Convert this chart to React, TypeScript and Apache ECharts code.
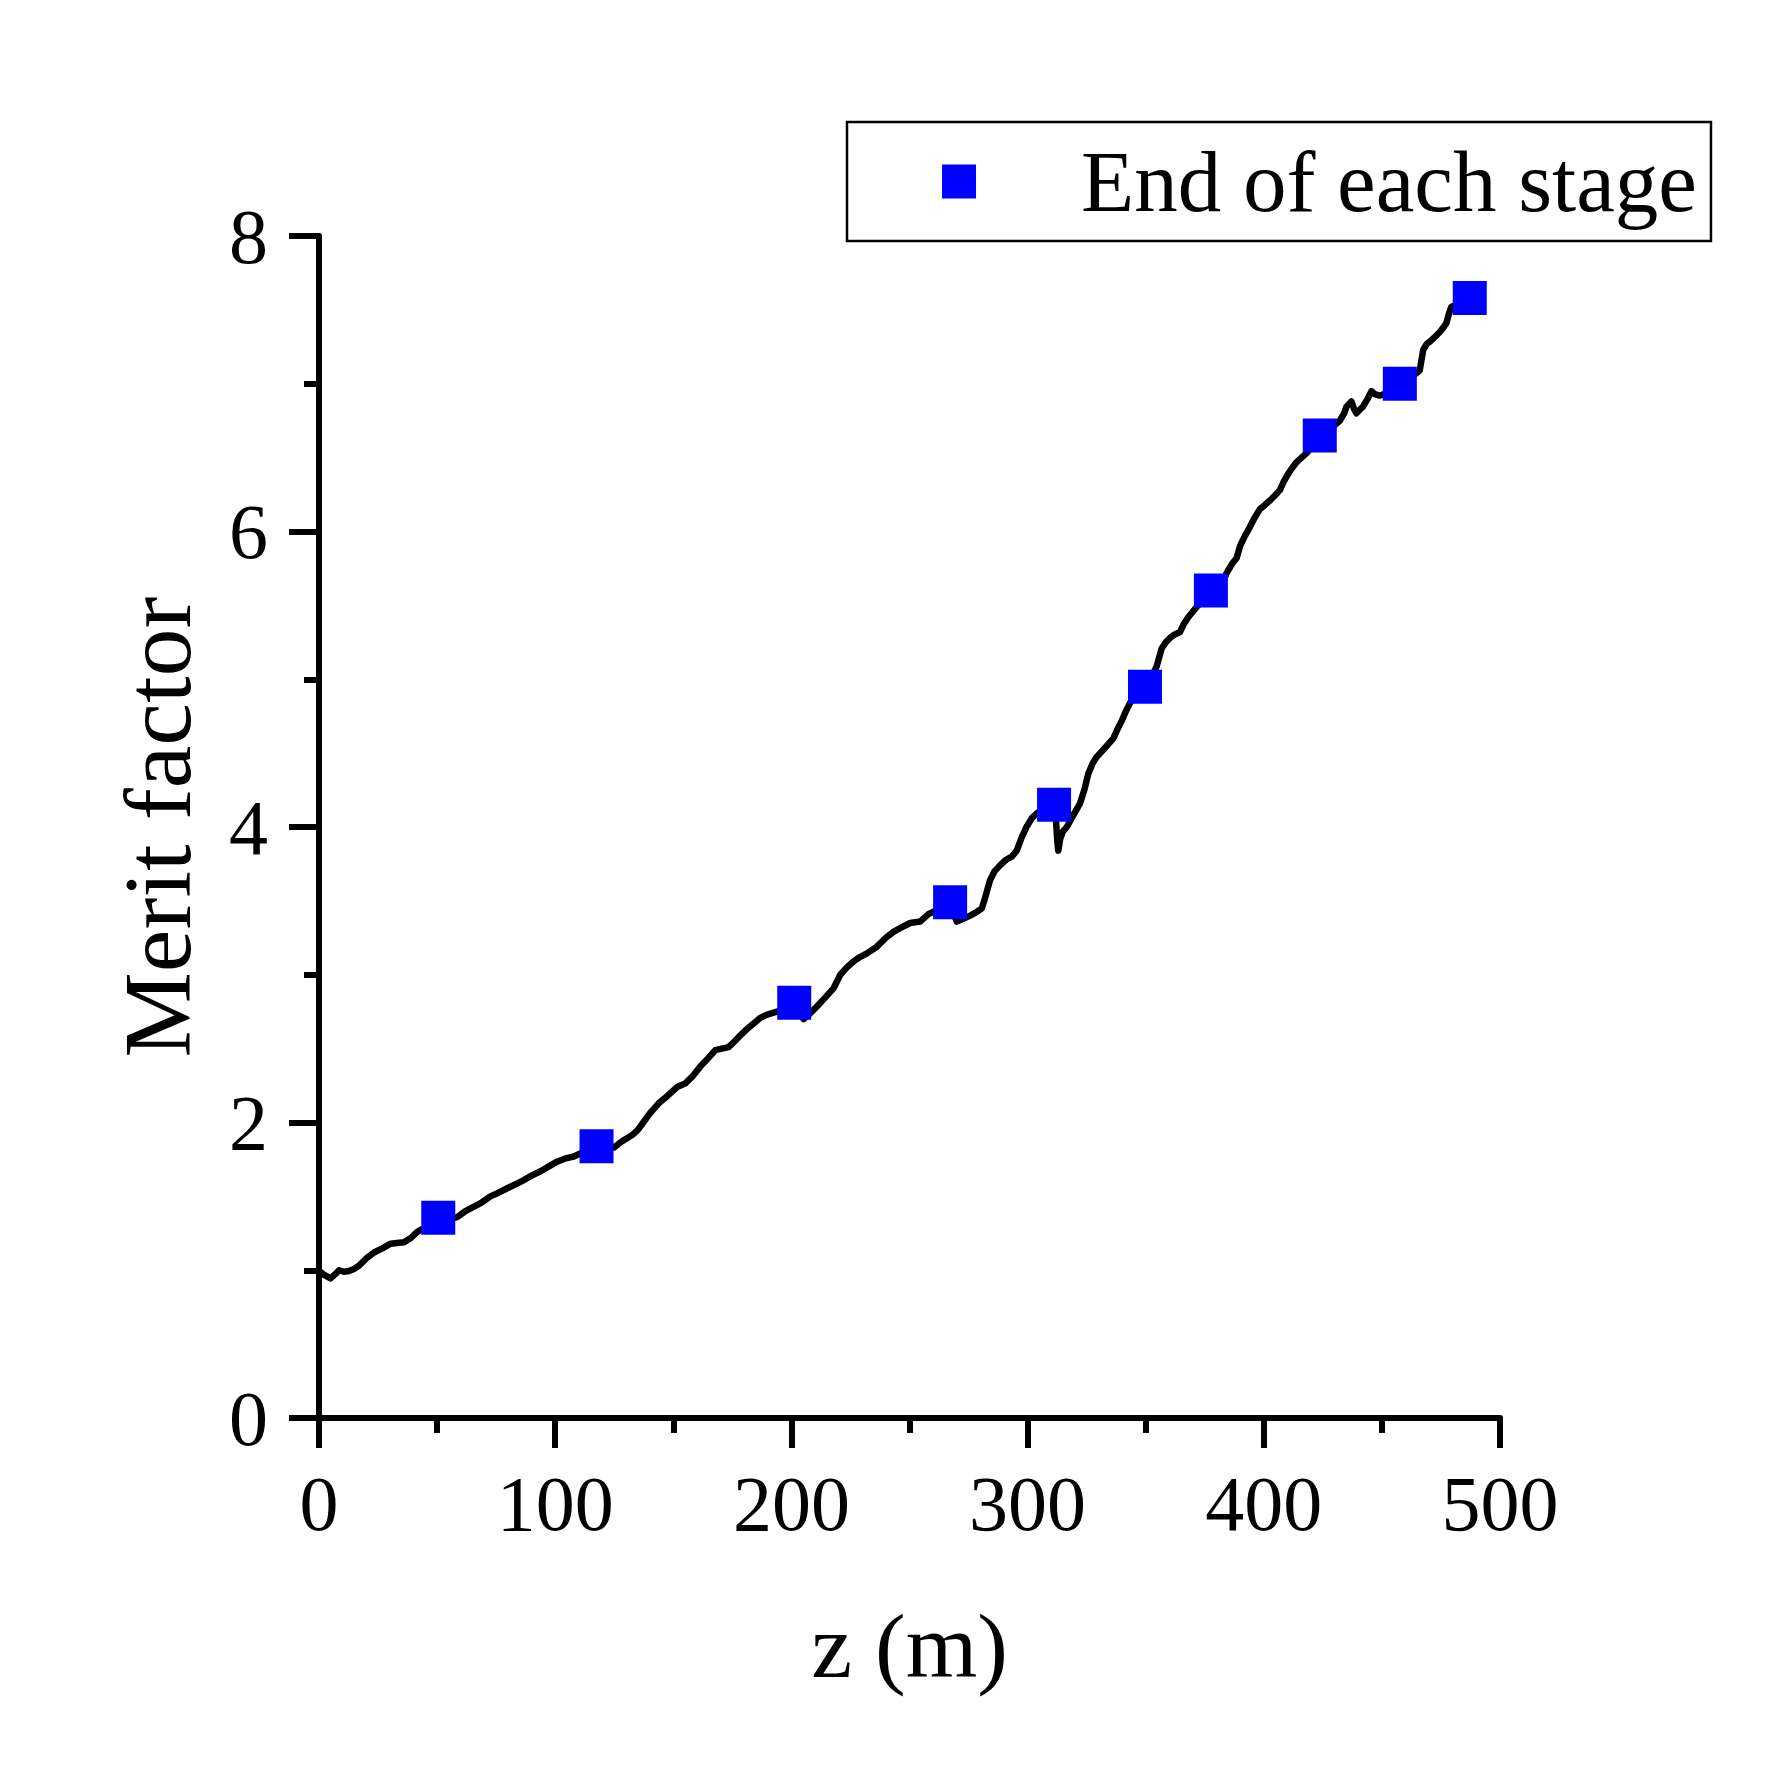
import React, { useEffect, useRef } from "react";
import * as echarts from "echarts";

const FONT = "'Times New Roman', 'Liberation Serif', serif";

const xTicks = [0, 100, 200, 300, 400, 500];
const yTicks = [0, 2, 4, 6, 8];

const lineZ = [
  0.5, 2, 4.9, 7, 8.5, 10.5, 12.7, 15, 16.9, 20, 23.3, 27, 30.3, 33, 36, 39, 41.6, 45, 48, 50.5,
  54, 58.5, 62, 65.6, 69, 72.6, 76, 79.7, 83, 86.7, 90, 93.8, 97, 100.8, 104, 107.9, 112, 115, 117.5,
  121, 124.8, 128, 132.6, 135, 137.5, 140, 143.8, 147.5, 151.6, 155.1, 158, 161.5, 164.5, 167.8,
  170.5, 173.4, 176, 178.4, 181, 184, 187, 189.7, 193.9, 197, 201.2, 203.5, 205.2, 208, 210.8, 214,
  217.9, 220.7, 223.5, 226.3, 229, 232, 236.2, 240, 243.2, 246.5, 250.3, 254.5, 258, 262, 265, 267.2,
  268.5, 270, 273, 275.7, 278, 280.6, 282, 284.1, 286, 288.3, 291, 293.3, 295.4, 297.5, 299.5, 301.8,
  304.5, 307.5, 311.2, 312, 312.6, 313, 313.8, 315, 316.6, 319, 322.2, 324, 325.7, 327.5, 329.3, 333,
  336.3, 338, 339.9, 341.5, 343.4, 346, 349.7, 352, 354.6, 356.8, 358.5, 360.3, 362, 364.5, 366, 368,
  371.6, 374, 377.6, 379.3, 381, 384.3, 386.5, 388.5, 389.9, 392, 394.1, 396, 398.3, 400.5, 402.6,
  404.5, 406.8, 408.5, 410.3, 412, 413.9, 416, 418.1, 421, 423.7, 427, 430, 432.2, 434, 435, 437.1,
  438.2, 439.2, 441, 442, 444, 445.6, 447, 449.1, 451, 454, 457.6, 460, 463, 466, 467.5, 469, 470.3,
  472, 474.5, 476, 477.3, 478.3, 479.4, 482, 485, 487.2,
];

const lineMerit = [
  0.99, 0.97, 0.945, 0.975, 1.0, 0.99, 0.995, 1.01, 1.03, 1.08, 1.12, 1.15, 1.18, 1.185, 1.19, 1.22, 1.26, 1.29, 1.33, 1.355,
  1.34, 1.36, 1.4, 1.43, 1.46, 1.5, 1.525, 1.555, 1.58, 1.61, 1.64, 1.67, 1.7, 1.735, 1.755, 1.77, 1.8, 1.82, 1.84,
  1.835, 1.83, 1.87, 1.915, 1.95, 2.005, 2.06, 2.13, 2.18, 2.24, 2.265, 2.31, 2.38, 2.43, 2.49,
  2.5, 2.51, 2.55, 2.59, 2.63, 2.67, 2.71, 2.73, 2.75, 2.77, 2.81, 2.74, 2.7, 2.74, 2.785, 2.84,
  2.91, 3.0, 3.05, 3.09, 3.12, 3.145, 3.19, 3.25, 3.29, 3.32, 3.35, 3.36, 3.41, 3.44, 3.47, 3.49,
  3.42, 3.36, 3.38, 3.4, 3.42, 3.45, 3.52, 3.64, 3.7, 3.74, 3.78, 3.8, 3.84, 3.93, 4.0, 4.06,
  4.1, 4.12, 4.15, 4.05, 3.9, 3.84, 3.92, 3.97, 4.0, 4.07, 4.16, 4.25, 4.36, 4.43, 4.475, 4.54,
  4.6, 4.66, 4.72, 4.78, 4.84, 4.9, 4.95, 5.0, 5.085, 5.21, 5.25, 5.28, 5.3, 5.32, 5.37, 5.42,
  5.49, 5.53, 5.6, 5.52, 5.6, 5.72, 5.78, 5.82, 5.9, 5.97, 6.03, 6.09, 6.15, 6.18, 6.21,
  6.24, 6.28, 6.34, 6.39, 6.43, 6.47, 6.5, 6.53, 6.59, 6.65, 6.69, 6.72, 6.75, 6.8, 6.845, 6.88,
  6.83, 6.8, 6.83, 6.845, 6.9, 6.95, 6.93, 6.92, 6.93, 6.96, 7.0, 7.02, 7.05, 7.09, 7.23, 7.27, 7.285,
  7.31, 7.35, 7.38, 7.41, 7.47, 7.52, 7.54, 7.57, 7.58,
];

const stageZ = [50.5, 117.5, 201.2, 267.2, 311.2, 349.7, 377.6, 423.7, 457.6, 487.2];
const stageMerit = [1.355, 1.84, 2.81, 3.49, 4.15, 4.95, 5.6, 6.65, 7.0, 7.58];

const legendLabel = "End of each stage";
const xName = "z (m)";
const yName = "Merit factor";

export default function App() {
  const ref = useRef<HTMLDivElement>(null);
  useEffect(() => {
    if (!ref.current) return;
    const chart = echarts.init(ref.current, undefined, { renderer: "svg" });
    const axisCommon = {
      type: "value" as const,
      nameLocation: "middle" as const,
      axisLine: { show: true, onZero: false, lineStyle: { color: "#000", width: 6 } },
      axisTick: { show: true, inside: false, length: 30, lineStyle: { color: "#000", width: 6 } },
      minorTick: { show: true, splitNumber: 2, length: 15, lineStyle: { color: "#000", width: 6 } },
      splitLine: { show: false },
      minorSplitLine: { show: false },
    };
    chart.setOption({
      animation: false,
      backgroundColor: "#fff",
      grid: { left: 319, top: 236, width: 1181, height: 1182, containLabel: false, outerBoundsMode: "none" },
      legend: {
        data: [legendLabel],
        left: 847,
        top: 122,
        orient: "horizontal",
        icon: "rect",
        itemWidth: 34,
        itemHeight: 34,
        padding: [16, 14, 16, 95],
        borderColor: "#000",
        borderWidth: 2.5,
        borderRadius: 0,
        itemStyle: { opacity: 1 },
        textStyle: { fontFamily: FONT, fontSize: 87, color: "#000", padding: [0, 0, 0, 100] },
      },
      xAxis: {
        ...axisCommon,
        min: xTicks[0],
        max: xTicks[xTicks.length - 1],
        interval: xTicks[1] - xTicks[0],
        name: xName,
        nameGap: 182,
        nameTextStyle: { fontFamily: FONT, fontSize: 92, color: "#000" },
        axisLabel: { fontFamily: FONT, fontSize: 78, color: "#000", margin: 46 },
      },
      yAxis: {
        ...axisCommon,
        min: yTicks[0],
        max: yTicks[yTicks.length - 1],
        interval: yTicks[1] - yTicks[0],
        name: yName,
        nameGap: 114,
        nameTextStyle: { fontFamily: FONT, fontSize: 96, color: "#000" },
        axisLabel: { fontFamily: FONT, fontSize: 78, color: "#000", margin: 51 },
      },
      series: [
        {
          name: "Merit factor curve",
          type: "line",
          data: lineZ.map((z, i) => [z, lineMerit[i]]),
          showSymbol: false,
          symbol: "none",
          lineStyle: { color: "#000", width: 6.5, join: "round", cap: "round" },
          z: 2,
        },
        {
          name: legendLabel,
          type: "scatter",
          data: stageZ.map((z, i) => [z, stageMerit[i]]),
          symbol: "rect",
          symbolSize: 34,
          itemStyle: { color: "#0000FF", opacity: 1 },
          z: 3,
        },
      ],
    });
    return () => chart.dispose();
  }, []);
  return (
    <div
      ref={ref}
      style={{ position: "fixed", left: 0, top: 0, width: 1771, height: 1773, background: "#fff" }}
    />
  );
}
